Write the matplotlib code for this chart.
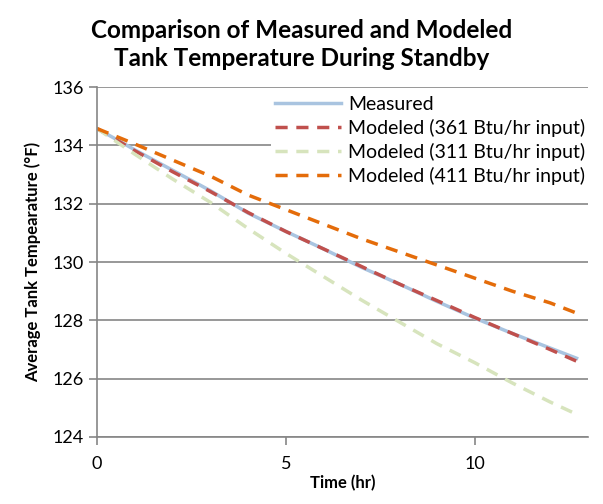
import matplotlib.pyplot as plt

# Données
hours = [0, 1, 2, 3, 4, 5, 6, 7, 8, 9, 10, 11, 12, 12.7]
measured = [134.58, 133.85, 133.15, 132.45, 131.68, 131.05, 130.45, 129.82, 129.25, 128.65, 128.08, 127.55, 127.05, 126.7]
modeled_361 = [134.58, 133.82, 133.1, 132.42, 131.7, 131.05, 130.45, 129.85, 129.25, 128.68, 128.1, 127.55, 127.0, 126.6]
modeled_311 = [134.58, 133.7, 132.85, 132.05, 131.15, 130.3, 129.5, 128.7, 127.95, 127.2, 126.55, 125.85, 125.2, 124.78]
modeled_411 = [134.58, 134.05, 133.5, 132.95, 132.3, 131.8, 131.3, 130.8, 130.35, 129.9, 129.45, 129.0, 128.6, 128.25]

plt.rcParams['font.family'] = ['Lato', 'DejaVu Sans']

fig = plt.figure(figsize=(6.03, 5.04), dpi=100)
ax = fig.add_axes([0.161, 0.133, 0.814, 0.694])

ax.plot(hours, measured, color='#A9C4E0', lw=2.5, label='Measured')
ax.plot(hours, modeled_361, color='#C0504D', lw=2.5, ls=(0, (3.5, 2.5)), label='Modeled (361 Btu/hr input)')
ax.plot(hours, modeled_311, color='#D7E4BD', lw=2.5, ls=(0, (3.5, 2.5)), label='Modeled (311 Btu/hr input)')
ax.plot(hours, modeled_411, color='#E46C0A', lw=2.5, ls=(0, (3.5, 2.5)), label='Modeled (411 Btu/hr input)')

ax.set_xlim(0, 13)
ax.set_ylim(124, 136)
ax.set_xticks([0, 5, 10])
ax.set_yticks(range(124, 137, 2))
ax.grid(axis='y', color='#868686', lw=1.2, solid_capstyle='butt')
ax.set_axisbelow(True)
for side in ['top', 'right']:
    ax.spines[side].set_visible(False)
for side in ['left', 'bottom']:
    ax.spines[side].set_color('#868686')
    ax.spines[side].set_linewidth(1.2)
ax.tick_params(colors='#868686', labelcolor='black', labelsize=13, length=6, width=1.2)
ax.tick_params(axis='x', pad=8)

# titre centré sur la figure, pas sur les axes
fig.text(0.5, 0.962, "Comparison of Measured and Modeled\nTank Temperature During Standby",
         ha='center', va='top', fontsize=17.5, fontweight='bold', linespacing=1.25)
ax.set_xlabel("Time (hr)", fontsize=12, fontweight='bold', labelpad=2)
ax.set_ylabel("Average Tank Tempearature (°F)", fontsize=12, fontweight='bold', labelpad=8)

leg = ax.legend(loc='upper right', bbox_to_anchor=(1.022, 1.014), frameon=True, fontsize=14,
                handlelength=3.4, handletextpad=0.35, labelspacing=0.3, borderpad=0.2)
leg.get_frame().set_edgecolor('none')
leg.get_frame().set_facecolor('white')
leg.get_frame().set_alpha(1)

fig.savefig('out.png', dpi=100)
